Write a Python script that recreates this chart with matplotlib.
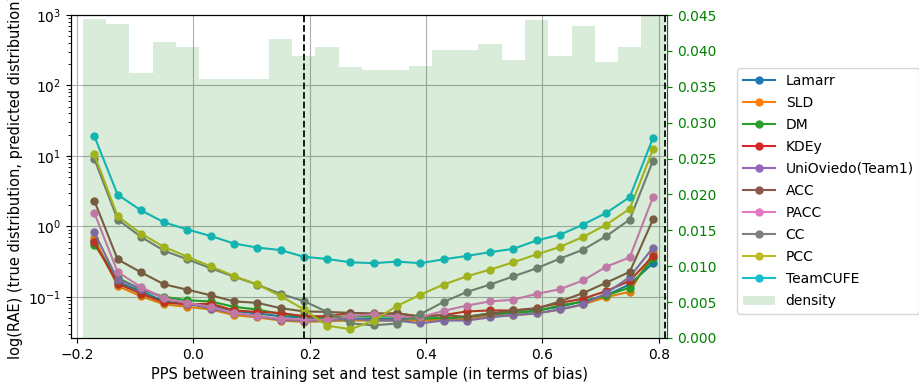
import matplotlib
matplotlib.use("Agg")
import matplotlib.pyplot as plt
import numpy as np

# bias values (bin centres)
pps = [-0.17, -0.13, -0.09, -0.05, -0.01, 0.03, 0.07, 0.11, 0.15, 0.19, 0.23, 0.27, 0.31,
       0.35, 0.39, 0.43, 0.47, 0.51, 0.55, 0.59, 0.63, 0.67, 0.71, 0.75, 0.79]

lamarr = [0.62, 0.162, 0.120, 0.086, 0.078, 0.076, 0.063, 0.058, 0.053, 0.051, 0.048, 0.049, 0.049,
          0.048, 0.049, 0.049, 0.051, 0.055, 0.059, 0.064, 0.072, 0.087, 0.105, 0.150, 0.30]
sld = [0.68, 0.142, 0.102, 0.078, 0.072, 0.066, 0.055, 0.051, 0.046, 0.044, 0.045, 0.046, 0.046,
       0.046, 0.046, 0.047, 0.048, 0.053, 0.055, 0.058, 0.066, 0.078, 0.099, 0.118, 0.42]
dm = [0.55, 0.187, 0.127, 0.100, 0.089, 0.086, 0.072, 0.066, 0.057, 0.053, 0.051, 0.053, 0.053,
      0.052, 0.049, 0.050, 0.052, 0.058, 0.060, 0.062, 0.076, 0.085, 0.105, 0.135, 0.35]
kdey = [0.59, 0.154, 0.111, 0.083, 0.078, 0.080, 0.064, 0.061, 0.059, 0.053, 0.053, 0.059, 0.057,
        0.058, 0.053, 0.055, 0.062, 0.064, 0.064, 0.069, 0.082, 0.094, 0.121, 0.168, 0.38]
unioviedo = [0.82, 0.175, 0.131, 0.096, 0.080, 0.068, 0.059, 0.053, 0.047, 0.046, 0.046, 0.049, 0.046,
             0.046, 0.042, 0.046, 0.046, 0.051, 0.055, 0.058, 0.066, 0.078, 0.113, 0.191, 0.50]
acc = [2.31, 0.34, 0.223, 0.150, 0.126, 0.105, 0.086, 0.082, 0.069, 0.062, 0.061, 0.059, 0.058,
       0.058, 0.052, 0.055, 0.052, 0.058, 0.064, 0.068, 0.086, 0.113, 0.159, 0.226, 1.26]
pacc = [1.56, 0.225, 0.138, 0.095, 0.082, 0.072, 0.059, 0.053, 0.049, 0.0475, 0.0475, 0.053, 0.0565,
        0.052, 0.051, 0.063, 0.075, 0.086, 0.091, 0.110, 0.128, 0.171, 0.268, 0.363, 2.6]
cc = [9.1, 1.25, 0.71, 0.45, 0.34, 0.254, 0.193, 0.149, 0.110, 0.087, 0.061, 0.042, 0.0394,
      0.0417, 0.0565, 0.0844, 0.117, 0.149, 0.195, 0.254, 0.348, 0.467, 0.73, 1.25, 8.6]
pcc = [10.5, 1.39, 0.79, 0.51, 0.37, 0.27, 0.197, 0.150, 0.102, 0.0665, 0.039, 0.0346, 0.046,
       0.074, 0.107, 0.149, 0.195, 0.243, 0.309, 0.40, 0.51, 0.71, 1.06, 1.78, 12.4]
teamcufe = [19.1, 2.82, 1.69, 1.14, 0.90, 0.73, 0.57, 0.50, 0.46, 0.37, 0.344, 0.309, 0.30,
            0.316, 0.30, 0.34, 0.38, 0.43, 0.48, 0.63, 0.76, 1.06, 1.56, 2.6, 18.1]

methods = ["Lamarr", "SLD", "DM", "KDEy", "UniOviedo(Team1)", "ACC", "PACC", "CC", "PCC", "TeamCUFE"]
series = [lamarr, sld, dm, kdey, unioviedo, acc, pacc, cc, pcc, teamcufe]

density = [0.0444, 0.0437, 0.0369, 0.0413, 0.0405, 0.0361, 0.0361, 0.0361, 0.0417, 0.0393, 0.0405,
           0.0377, 0.0373, 0.0373, 0.0379, 0.0401, 0.0401, 0.0409, 0.0387, 0.0443, 0.0393, 0.0435,
           0.0384, 0.0405, 0.047]
bin_width = 0.04
vlines = [0.19, 0.81]

fig = plt.figure(figsize=(9.19, 3.83), dpi=100)
ax = fig.add_axes([0.0773, 0.1175, 0.6485, 0.8433])

for name, vals in zip(methods, series):
    ax.plot(pps, vals, "o-", markersize=5, label=name)
for v in vlines:
    ax.axvline(v, color="k", linestyle="--", linewidth=1.3)

ax.set_yscale("log")
ax.set_ylim(0.026, 1000)
ax.set_xlim(-0.21, 0.814)
ax.set_xticks([-0.2, 0.0, 0.2, 0.4, 0.6, 0.8])
ax.grid(True)
ax.set_xlabel("PPS between training set and test sample (in terms of bias)", fontsize=10.5)
# long label runs past the top edge, as in the original
ax.set_ylabel("log(RAE) (true distribution, predicted distribution)", fontsize=10.5)

ax2 = ax.twinx()
ax2.bar(pps, density, width=bin_width, color="green", alpha=0.15, label="density")
ax2.set_ylim(0, 0.045)
ax2.set_yticks(np.arange(0, 0.0451, 0.005))
ax2.yaxis.set_major_formatter(matplotlib.ticker.FormatStrFormatter("%.3f"))
ax2.tick_params(axis="y", colors="green")
ax2.spines["right"].set_color("green")

h1, l1 = ax.get_legend_handles_labels()
h2, l2 = ax2.get_legend_handles_labels()
ax2.legend(h1 + h2, l1 + l2, loc="center left", bbox_to_anchor=(1.106, 0.455), labelspacing=0.58,
           handlelength=2.3)

fig.savefig("out.png", dpi=100)
